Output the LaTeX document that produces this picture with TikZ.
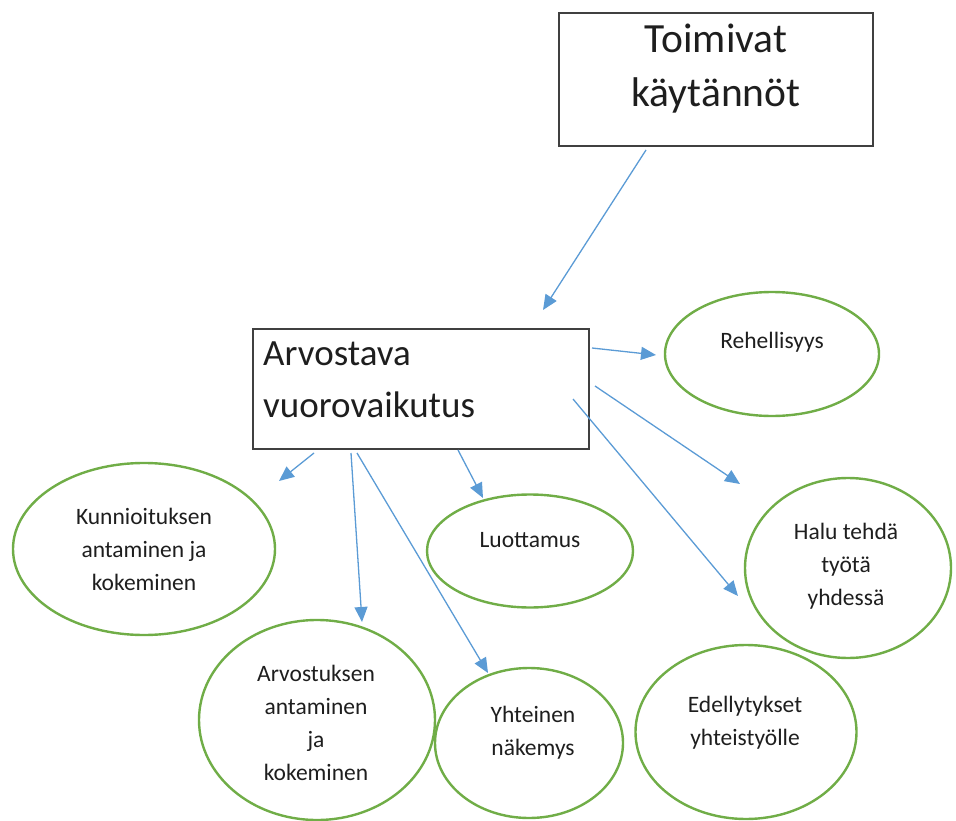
\documentclass[tikz,border=0pt]{standalone}
\usepackage{fontspec}
\setmainfont{Carlito}
\usetikzlibrary{shapes.geometric,arrows.meta}
\definecolor{ringgreen}{HTML}{70AD47}
\definecolor{linkblue}{HTML}{5B9BD5}
\definecolor{ink}{HTML}{1E1E1E}
\tikzset{
  mainbox/.style={draw=ink!85, line width=1.4pt, rectangle, inner sep=0pt},
  ring/.style={draw=ringgreen, line width=2.4pt, ellipse, inner sep=0pt},
  ringtext/.style={text=ink, align=center, inner sep=0pt, font=\fontsize{23.5}{33}\selectfont},
  link/.style={draw=linkblue, line width=1.3pt, -{Triangle[length=15pt,width=13pt]}},
}
\begin{document}
\begin{tikzpicture}[x=1pt,y=-1pt]
\useasboundingbox (0,0) rectangle (956,821);

% top box (multi-line text: base anchor sits on the last line)
\node[mainbox, minimum width=314pt, minimum height=133pt] (top) at (716,79.5) {};
\node[text=ink, align=center, inner sep=0pt, anchor=base, font=\fontsize{41.5}{54}\selectfont] (topt) at (716,107) {Toimivat\\käytännöt};

% central box
\node[mainbox, minimum width=336pt, minimum height=120pt] (arv) at (421,389) {};
\node[text=ink, align=left, inner sep=0pt, anchor=base west, font=\fontsize{37}{52}\selectfont] (arvt) at (263,417) {Arvostava\\vuorovaikutus};

% outcome ellipses
\node[ring, minimum width=214pt, minimum height=124pt] (reh) at (772,354) {};
\node[ringtext] (reht) at (772,342) {Rehellisyys};

\node[ring, minimum width=206pt, minimum height=180pt] (halu) at (848,568) {};
\node[ringtext] (halut) at (846,566) {Halu tehdä\\työtä\\yhdessä};

\node[ring, minimum width=206pt, minimum height=113pt] (luot) at (530,551) {};
\node[ringtext] (luott) at (530,540) {Luottamus};

\node[ring, minimum width=188pt, minimum height=150pt] (yht) at (529,743) {};
\node[ringtext] (yhtt) at (533,733) {Yhteinen\\näkemys};

\node[ring, minimum width=221pt, minimum height=174pt] (edel) at (746,732) {};
\node[ringtext] (edelt) at (745,723) {Edellytykset\\yhteistyölle};

\node[ring, minimum width=262pt, minimum height=172pt] (kun) at (144,549) {};
\node[ringtext] (kunt) at (144,549) {Kunnioituksen\\antaminen ja\\kokeminen};

\node[ring, minimum width=236pt, minimum height=200pt] (arvk) at (317,720) {};
\node[ringtext] (arvkt) at (316,723) {Arvostuksen\\antaminen\\ja\\kokeminen};

% connector end points
\coordinate (c0a) at (646,150);  \coordinate (c0b) at (543,310);
\coordinate (c1a) at (592,348);  \coordinate (c1b) at (656,355);
\coordinate (c2a) at (595,386);  \coordinate (c2b) at (740,484);
\coordinate (c3a) at (573,399);  \coordinate (c3b) at (738,596);
\coordinate (c4a) at (458,450);  \coordinate (c4b) at (483,498);
\coordinate (c5a) at (314,453);  \coordinate (c5b) at (279,481);
\coordinate (c6a) at (351,453);  \coordinate (c6b) at (362,622);
\coordinate (c7a) at (357,453);  \coordinate (c7b) at (488,673);

% connectors
\draw[link] (c0a) -- (c0b);
\draw[link] (c1a) -- (c1b);
\draw[link] (c2a) -- (c2b);
\draw[link] (c3a) -- (c3b);
\draw[link] (c4a) -- (c4b);
\draw[link] (c5a) -- (c5b);
\draw[link] (c6a) -- (c6b);
\draw[link] (c7a) -- (c7b);
\end{tikzpicture}
\end{document}
